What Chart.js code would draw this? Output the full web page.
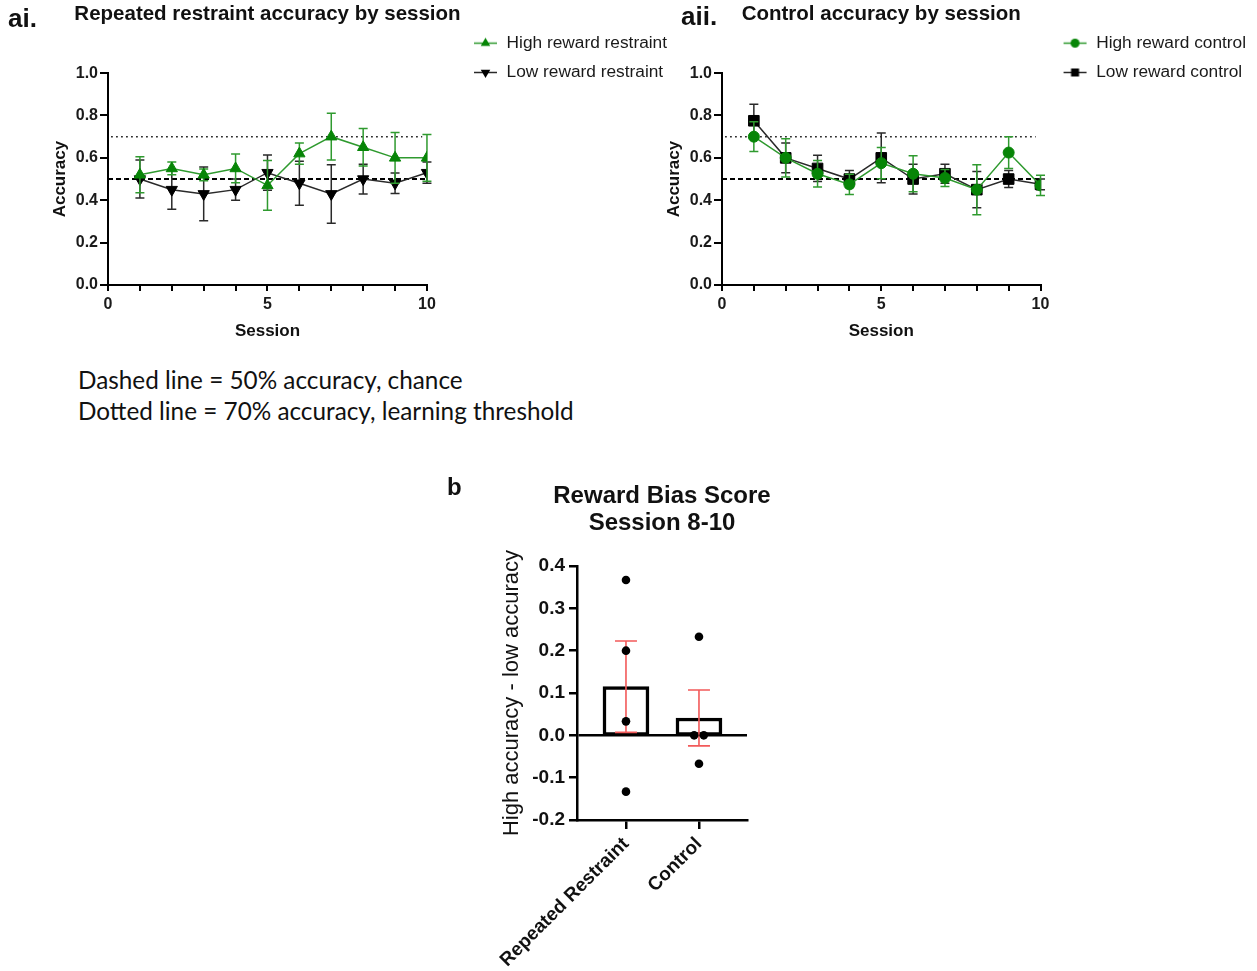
<!DOCTYPE html>
<html><head><meta charset="utf-8">
<script src="https://cdn.jsdelivr.net/npm/chart.js@4/dist/chart.umd.min.js"></script>
<style>
html,body{margin:0;padding:0;background:#fff;}
body{width:1257px;height:971px;position:relative;overflow:hidden;font-family:"Liberation Sans",Arial,sans-serif;}
canvas{position:absolute;}
.lbl{position:absolute;font-weight:bold;color:#111;white-space:nowrap;line-height:30px;font-family:"Liberation Sans",Arial,sans-serif;}
.note{position:absolute;left:78px;top:364px;font-family:Lato,"Open Sans",sans-serif;font-size:24.3px;line-height:31px;color:#111;white-space:nowrap;}
</style></head><body>
<canvas id="cA1" width="677" height="350" style="left:0;top:0"></canvas>
<canvas id="cA2" width="636" height="350" style="left:620px;top:0"></canvas>
<canvas id="cB" width="340" height="501" style="left:440px;top:470px"></canvas>
<div class="lbl" style="left:8px;top:3px;font-size:26px">ai.</div>
<div class="lbl" style="left:681px;top:1px;font-size:26px">aii.</div>
<div class="lbl" style="left:447px;top:472px;font-size:24px">b</div>
<div class="note">Dashed line = 50% accuracy, chance<br>Dotted line = 70% accuracy, learning threshold</div>
<script>
// ---------- data ----------
const sessions = [1, 2, 3, 4, 5, 6, 7, 8, 9, 10];
const highRestraint    = [0.52, 0.55, 0.52, 0.55, 0.47, 0.62, 0.70, 0.65, 0.60, 0.60];
const highRestraintSem = [0.085, 0.03, 0.028, 0.068, 0.117, 0.05, 0.11, 0.088, 0.12, 0.11];
const lowRestraint     = [0.50, 0.45, 0.43, 0.45, 0.53, 0.48, 0.43, 0.50, 0.48, 0.53];
const lowRestraintSem  = [0.09, 0.093, 0.127, 0.05, 0.083, 0.104, 0.138, 0.07, 0.048, 0.05];
const highControl      = [0.70, 0.60, 0.525, 0.475, 0.575, 0.525, 0.505, 0.45, 0.625, 0.47];
const highControlSem   = [0.07, 0.09, 0.063, 0.048, 0.074, 0.085, 0.04, 0.118, 0.075, 0.048];
const lowControl       = [0.775, 0.60, 0.55, 0.50, 0.60, 0.50, 0.525, 0.45, 0.50, 0.475];
const lowControlSem    = [0.078, 0.07, 0.062, 0.04, 0.117, 0.07, 0.045, 0.086, 0.04, 0.025];
const chanceLevel = 0.5;
const learningThreshold = 0.7;
const chanceSpan = [0, 10];
const thresholdSpan = [0.1, 9.85];

const groups = ['Repeated Restraint', 'Control'];
const groupPos = [0, 1];
const biasMean = [0.115, 0.041];
const biasSem = [0.108, 0.066];
const rrPoints = [0.367, 0.2, 0.033, -0.133];
const rrJitter = [0, 0, 0, 0];
const ctrlPoints = [0.233, 0, 0, -0.067];
const ctrlJitter = [0, -0.066, 0.066, 0];

// ---------- style ----------
Chart.defaults.font.family = '"Liberation Sans", Arial, sans-serif';
Chart.defaults.color = '#111';
Chart.defaults.animation = false;
const GREEN = '#078507', GREEN_LINE = '#2f9a2f', BLACK = '#000', BLACK_LINE = '#2a2a2a';

function drawErr(chart, index) {
  const ds = chart.data.datasets[index];
  if (!ds.errors) return;
  const meta = chart.getDatasetMeta(index);
  const ys = chart.scales[meta.yAxisID];
  const ctx = chart.ctx;
  ctx.save();
  ctx.strokeStyle = ds.errorColor;
  ctx.lineWidth = ds.errorWidth;
  const cap = ds.errorCap;
  meta.data.forEach((el, i) => {
    const raw = ds.data[i];
    const v = typeof raw === 'object' ? raw.y : raw;
    const e = ds.errors[i];
    const x = el.x;
    const yT = ys.getPixelForValue(v + e), yB = ys.getPixelForValue(v - e);
    ctx.beginPath();
    ctx.moveTo(x, yT); ctx.lineTo(x, yB);
    ctx.moveTo(x - cap, yT); ctx.lineTo(x + cap, yT);
    ctx.moveTo(x - cap, yB); ctx.lineTo(x + cap, yB);
    ctx.stroke();
  });
  ctx.restore();
}
const errorBarPlugin = {
  id: 'errorBars',
  beforeDatasetDraw(chart, args) {
    const ds = chart.data.datasets[args.index];
    if (ds.errors && ds.errorLayer !== 'after') drawErr(chart, args.index);
  },
  afterDatasetDraw(chart, args) {
    const ds = chart.data.datasets[args.index];
    if (ds.errors && ds.errorLayer === 'after') drawErr(chart, args.index);
  }
};
// let the legend take its natural width, and let titles overhang the plot area
const layoutFix = {
  id: 'layoutFix',
  beforeLayout(chart) {
    const lg = chart.legend;
    if (lg && !lg._wide) {
      const orig = lg.fit;
      lg.fit = function () { this.maxWidth = Math.max(this.maxWidth, 400); return orig.call(this); };
      lg._wide = true;
    }
  },
  afterLayout(chart) {
    const t = chart.titleBlock;
    if (t) { t.left -= 150; t.right += 150; }
  }
};

function legendIcon(color, lineColor, shape, down) {
  const c = document.createElement('canvas');
  c.width = 25; c.height = 15;
  const g = c.getContext('2d');
  g.strokeStyle = lineColor; g.lineWidth = 1.5;
  g.beginPath(); g.moveTo(1, 7.5); g.lineTo(24, 7.5); g.stroke();
  g.fillStyle = color;
  g.beginPath();
  const cx = 12.5, cy = 7.5;
  if (shape === 'circle') g.arc(cx, cy, 4.5, 0, Math.PI * 2);
  else if (shape === 'rect') g.rect(cx - 4, cy - 4, 8, 8);
  else {
    const r = 5.5, s = down ? -1 : 1;
    g.moveTo(cx, cy - s * r); g.lineTo(cx + r * 0.866, cy + s * r * 0.5); g.lineTo(cx - r * 0.866, cy + s * r * 0.5); g.closePath();
  }
  g.fill();
  return c;
}

function series(vals, errs, label, color, lineColor, style, rot, radius, order) {
  return {
    label, data: vals.map((v, i) => ({x: sessions[i], y: v})),
    errors: errs, errorColor: lineColor, errorWidth: 1.5, errorCap: 4.5,
    borderColor: lineColor, borderWidth: 1.5, backgroundColor: color,
    pointBackgroundColor: color, pointBorderColor: color, pointBorderWidth: 1,
    pointStyle: style, pointRotation: rot, pointRadius: radius, pointHoverRadius: radius,
    order, inLegend: true, fill: false, tension: 0,
    legendIcon: legendIcon(color, lineColor, style, rot === 180)
  };
}
function refLine(level, span, dash, width) {
  return {label: 'ref', data: span.map(x => ({x, y: level})), borderColor: '#000', borderWidth: width,
    borderDash: dash, pointRadius: 0, order: 3, inLegend: false, fill: false};
}

function lineOptions(title, leftW, yTitlePad, rightPad) {
  return {
    responsive: false, animation: false,
    layout: {padding: 0},
    plugins: {
      title: {display: true, text: title, fullSize: false, font: {size: 20.5, weight: 'bold'}, color: '#111', padding: {top: 2.5, bottom: 46}},
      legend: {
        position: 'right', align: 'start',
        title: {display: true, text: ' ', font: {size: 10}, padding: {top: 10.5, bottom: 0}},
        labels: {
          usePointStyle: true, pointStyleWidth: 25, padding: 12, font: {size: 17.3}, color: '#1a1a1a',
          filter: (it, d) => d.datasets[it.datasetIndex].inLegend,
          generateLabels: chart => Chart.defaults.plugins.legend.labels.generateLabels(chart).map(it =>
            Object.assign(it, {pointStyle: chart.data.datasets[it.datasetIndex].legendIcon, rotation: 0}))
        }
      },
      tooltip: {enabled: false}
    },
    scales: {
      x: {
        type: 'linear', min: 0, max: 10,
        ticks: {stepSize: 1, autoSkip: false, maxRotation: 0, padding: 4, font: {size: 16, weight: 'bold'}, color: '#1a1a1a',
          callback: v => (v % 5 === 0 ? String(v) : '')},
        grid: {display: true, drawOnChartArea: false, tickLength: 6, color: '#000', lineWidth: 2},
        border: {color: '#000', width: 2},
        title: {display: true, text: 'Session', font: {size: 17, weight: 'bold'}, color: '#111', padding: {top: 0, bottom: 8.8}},
        afterFit: s => { s.height = 65; }
      },
      y: {
        min: 0, max: 1,
        ticks: {stepSize: 0.2, padding: 2, font: {size: 16, weight: 'bold'}, color: '#1a1a1a', callback: v => v.toFixed(1)},
        grid: {drawOnChartArea: false, tickLength: 8, color: '#000', lineWidth: 2},
        border: {color: '#000', width: 2},
        title: {display: true, text: 'Accuracy', font: {size: 17, weight: 'bold'}, color: '#111', padding: {top: yTitlePad, bottom: 0}},
        afterFit: s => { s.width = leftW; }
      },
      pad: {
        type: 'linear', position: 'right', display: true,
        ticks: {display: false}, grid: {display: false}, border: {display: false},
        afterFit: s => { s.width = rightPad; }
      }
    }
  };
}

new Chart(document.getElementById('cA1'), {
  type: 'line',
  data: {datasets: [
    series(highRestraint, highRestraintSem, 'High reward restraint', GREEN, GREEN_LINE, 'triangle', 0, 6.5, 1),
    series(lowRestraint, lowRestraintSem, 'Low reward restraint', BLACK, BLACK_LINE, 'triangle', 180, 6.5, 2),
    refLine(chanceLevel, chanceSpan, [5, 3], 2),
    refLine(learningThreshold, thresholdSpan, [1.5, 3.5], 1.5)
  ]},
  options: lineOptions('Repeated restraint accuracy by session', 108, 49.8, 34),
  plugins: [errorBarPlugin, layoutFix]
});

new Chart(document.getElementById('cA2'), {
  type: 'line',
  data: {datasets: [
    series(highControl, highControlSem, 'High reward control', GREEN, GREEN_LINE, 'circle', 0, 5.5, 1),
    series(lowControl, lowControlSem, 'Low reward control', BLACK, BLACK_LINE, 'rect', 0, 7.5, 2),
    refLine(chanceLevel, chanceSpan, [5, 3], 2),
    refLine(learningThreshold, thresholdSpan, [1.5, 3.5], 1.5)
  ]},
  options: lineOptions('Control accuracy by session', 102, 43.8, 10),
  plugins: [errorBarPlugin, layoutFix]
});

new Chart(document.getElementById('cB'), {
  type: 'bar',
  data: {datasets: [
    {type: 'scatter', label: 'Individual',
     data: rrPoints.map((y, i) => ({x: groupPos[0] + rrJitter[i], y}))
       .concat(ctrlPoints.map((y, i) => ({x: groupPos[1] + ctrlJitter[i], y}))),
     pointRadius: 4.3, pointHoverRadius: 4.3, backgroundColor: '#000', borderColor: '#000', pointBorderWidth: 0, order: 1},
    {type: 'bar', label: 'Mean', data: groupPos.map((x, i) => ({x, y: biasMean[i]})),
     backgroundColor: '#fff', borderColor: '#000', borderWidth: 3.5, borderSkipped: false, barThickness: 46,
     errors: biasSem, errorColor: '#f25a5a', errorWidth: 1.6, errorCap: 11, errorLayer: 'after', order: 2}
  ]},
  options: {
    responsive: false, animation: false,
    layout: {padding: {right: 33}},
    plugins: {
      legend: {display: false}, tooltip: {enabled: false},
      title: {display: true, text: ['Reward Bias Score', 'Session 8-10'], fullSize: false,
        font: {size: 24, weight: 'bold', lineHeight: 1.125}, color: '#111', padding: {top: 12.5, bottom: 29.5}}
    },
    scales: {
      x: {
        type: 'linear', min: -0.671, max: 1.658, offset: false, bounds: 'data',
        afterBuildTicks: s => { s.ticks = groupPos.map(v => ({value: v})); },
        ticks: {callback: v => groups[groupPos.indexOf(v)], minRotation: 45, maxRotation: 45, autoSkip: false, padding: 4,
          font: {size: 19, weight: 'bold'}, color: '#111'},
        grid: {offset: false, drawOnChartArea: false, tickLength: 9, color: '#000', lineWidth: 2.5},
        border: {color: '#000', width: 2.5},
        afterFit: s => { s.height = 151; }
      },
      y: {
        min: -0.2, max: 0.4,
        ticks: {stepSize: 0.1, padding: 4, font: {size: 19, weight: 'bold'}, color: '#111',
          callback: v => (Math.abs(v) < 1e-9 ? '0.0' : v.toFixed(1))},
        grid: {color: c => (c.tick && Math.abs(c.tick.value) < 1e-9 ? '#000' : 'rgba(0,0,0,0)'), tickColor: '#000', lineWidth: 2.5, tickLength: 8},
        border: {color: '#000', width: 2.5},
        title: {display: true, text: 'High accuracy - low accuracy', font: {size: 22}, color: '#111', padding: {top: 58.8, bottom: 0}},
        afterFit: s => { s.width = 137; }
      }
    }
  },
  plugins: [errorBarPlugin, layoutFix]
});
</script>
</body></html>
